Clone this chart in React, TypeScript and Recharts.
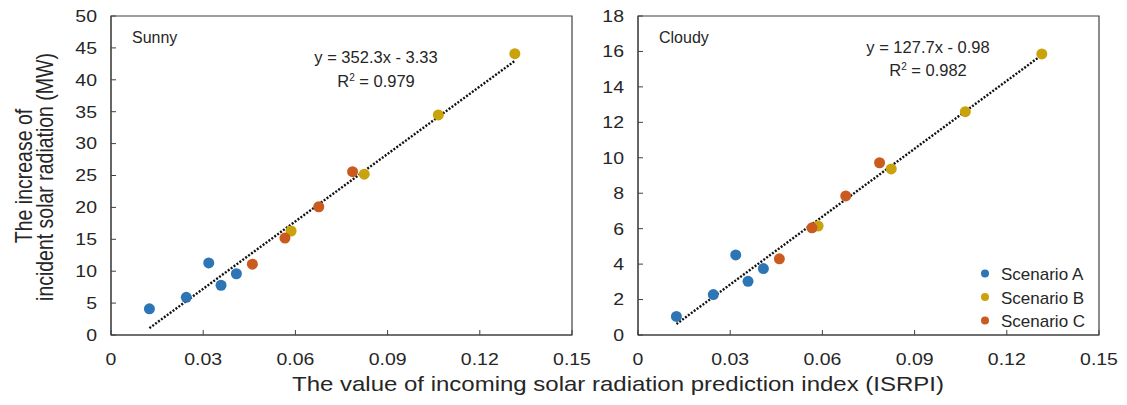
import React from 'react';
import {
  ScatterChart,
  Scatter,
  XAxis,
  YAxis,
  ReferenceArea,
  ReferenceLine,
} from 'recharts';

// ISRPI values, shared by both panels
const isrpiA = [0.0125, 0.0245, 0.0318, 0.0358, 0.0408];
const isrpiB = [0.0586, 0.0824, 0.1065, 0.1314];
const isrpiC = [0.046, 0.0566, 0.0676, 0.0786];

// Sunny (MW)
const sunnyA = [4.1, 5.9, 11.3, 7.8, 9.6];
const sunnyB = [16.3, 25.2, 34.5, 44.1];
const sunnyC = [11.1, 15.2, 20.1, 25.6];

// Cloudy (MW)
const cloudyA = [1.05, 2.28, 4.52, 3.03, 3.75];
const cloudyB = [6.15, 9.37, 12.6, 15.86];
const cloudyC = [4.3, 6.05, 7.85, 9.72];

const scenarios = ['Scenario A', 'Scenario B', 'Scenario C'];
const colors = ['#2E75B6', '#C9A20C', '#CB5A1E'];

const xTicks = [0, 0.03, 0.06, 0.09, 0.12, 0.15];
const sunnyTicks = [0, 5, 10, 15, 20, 25, 30, 35, 40, 45, 50];
const cloudyTicks = [0, 2, 4, 6, 8, 10, 12, 14, 16, 18];

const sunnyFit = { slope: 352.3, intercept: -3.33, r2: '0.979', label: 'y = 352.3x - 3.33' };
const cloudyFit = { slope: 127.7, intercept: -0.98, r2: '0.982', label: 'y = 127.7x - 0.98' };

const FONT = '"Liberation Sans", Arial, sans-serif';
const AXIS = '#404040';
const TEXT = '#262626';
const STRETCH = 1.18; // the source figure's text is a bit wide

const zip = (xs: number[], ys: number[]) => xs.map((x, i) => ({ x, y: ys[i] }));

const Dot = (props: any) => <circle cx={props.cx} cy={props.cy} r={5.5} fill={props.fill} />;

const fmtX = (v: number) => (v === 0 ? '0' : String(v));

const XTick = (props: any) => (
  <text
    transform={`translate(${props.x},${props.y}) scale(${STRETCH},1)`}
    textAnchor="middle"
    dy="0.71em"
    fontSize={16.5}
    fill={TEXT}
    fontFamily={FONT}
  >
    {fmtX(props.payload.value)}
  </text>
);

const YTick = (props: any) => (
  <text
    transform={`translate(${props.x},${props.y}) scale(${STRETCH},1)`}
    textAnchor="end"
    dy="0.355em"
    fontSize={16.5}
    fill={TEXT}
    fontFamily={FONT}
  >
    {props.payload.value}
  </text>
);

interface PanelProps {
  left: number;
  series: number[][];
  yMax: number;
  yTicks: number[];
  fit: { slope: number; intercept: number };
}

const Panel: React.FC<PanelProps> = ({ left, series, yMax, yTicks, fit }) => {
  const xs = [isrpiA, isrpiB, isrpiC];
  const allX = [...isrpiA, ...isrpiB, ...isrpiC];
  const xLo = Math.min(...allX);
  const xHi = Math.max(...allX);

  return (
    <div style={{ position: 'absolute', left, top: 0 }}>
      <ScatterChart width={600} height={405} margin={{ top: 16, right: 28, bottom: 40, left: 71 }}>
        <XAxis
          type="number"
          dataKey="x"
          domain={[0, 0.15]}
          ticks={xTicks}
          height={30}
          tickSize={-5}
          tickMargin={23}
          tick={XTick}
          stroke={AXIS}
          allowDataOverflow
        />
        <YAxis
          type="number"
          dataKey="y"
          domain={[0, yMax]}
          ticks={yTicks}
          width={40}
          tickSize={-5}
          tickMargin={19}
          tick={YTick}
          stroke={AXIS}
          allowDataOverflow
        />
        <ReferenceArea x1={0} x2={0.15} y1={0} y2={yMax} fill="none" stroke={AXIS} strokeWidth={1.2} />
        {series.map((ys, i) => (
          <Scatter
            key={scenarios[i]}
            name={scenarios[i]}
            data={zip(xs[i], ys)}
            fill={colors[i]}
            shape={Dot}
            isAnimationActive={false}
          />
        ))}
        <ReferenceLine
          segment={[
            { x: xLo, y: fit.slope * xLo + fit.intercept },
            { x: xHi, y: fit.slope * xHi + fit.intercept },
          ]}
          stroke="#111"
          strokeWidth={2.4}
          strokeDasharray="2 1.6"
        />
      </ScatterChart>
    </div>
  );
};

export default function App() {
  return (
    <div
      style={{
        position: 'absolute',
        left: 0,
        top: 0,
        width: 1127,
        height: 405,
        background: '#fff',
        overflow: 'hidden',
        fontFamily: FONT,
      }}
    >
      <Panel left={0} series={[sunnyA, sunnyB, sunnyC]} yMax={50} yTicks={sunnyTicks} fit={sunnyFit} />
      <Panel left={527} series={[cloudyA, cloudyB, cloudyC]} yMax={18} yTicks={cloudyTicks} fit={cloudyFit} />

      <svg
        width={1127}
        height={405}
        style={{ position: 'absolute', left: 0, top: 0, pointerEvents: 'none' }}
        fontFamily={FONT}
      >
        {/* y-axis title */}
        <g transform="translate(32,176) rotate(-90) scale(1,1.2)">
          <text textAnchor="middle" fontSize={19.5} fill={TEXT}>The increase of</text>
        </g>
        <g transform="translate(53,177) rotate(-90) scale(1,1.2)">
          <text textAnchor="middle" fontSize={19.5} fill={TEXT}>incident solar radiation (MW)</text>
        </g>
        {/* x-axis title */}
        <g transform={`translate(618,391) scale(1.2,1)`}>
          <text textAnchor="middle" fontSize={20} fill={TEXT}>
            The value of incoming solar radiation prediction index (ISRPI)
          </text>
        </g>

        {/* panel labels */}
        <text x={132} y={43} fontSize={16} fill={TEXT}>Sunny</text>
        <text x={659} y={43} fontSize={16} fill={TEXT}>Cloudy</text>

        {/* fit equations */}
        <text x={376} y={63} textAnchor="middle" fontSize={16.5} fill={TEXT}>{sunnyFit.label}</text>
        <text x={376} y={86.5} textAnchor="middle" fontSize={16.5} fill={TEXT}>
          R<tspan dy={-6} fontSize={10}>2</tspan><tspan dy={6}> = {sunnyFit.r2}</tspan>
        </text>
        <text x={928} y={52.5} textAnchor="middle" fontSize={16.5} fill={TEXT}>{cloudyFit.label}</text>
        <text x={928} y={76} textAnchor="middle" fontSize={16.5} fill={TEXT}>
          R<tspan dy={-6} fontSize={10}>2</tspan><tspan dy={6}> = {cloudyFit.r2}</tspan>
        </text>

        {/* legend */}
        {scenarios.map((name, i) => (
          <g key={name} transform={`translate(985,${273.5 + i * 23.5})`}>
            <circle cx={0} cy={0} r={4} fill={colors[i]} />
            <text x={16} y={6.5} fontSize={17} fill={TEXT}>{name}</text>
          </g>
        ))}
      </svg>
    </div>
  );
}
